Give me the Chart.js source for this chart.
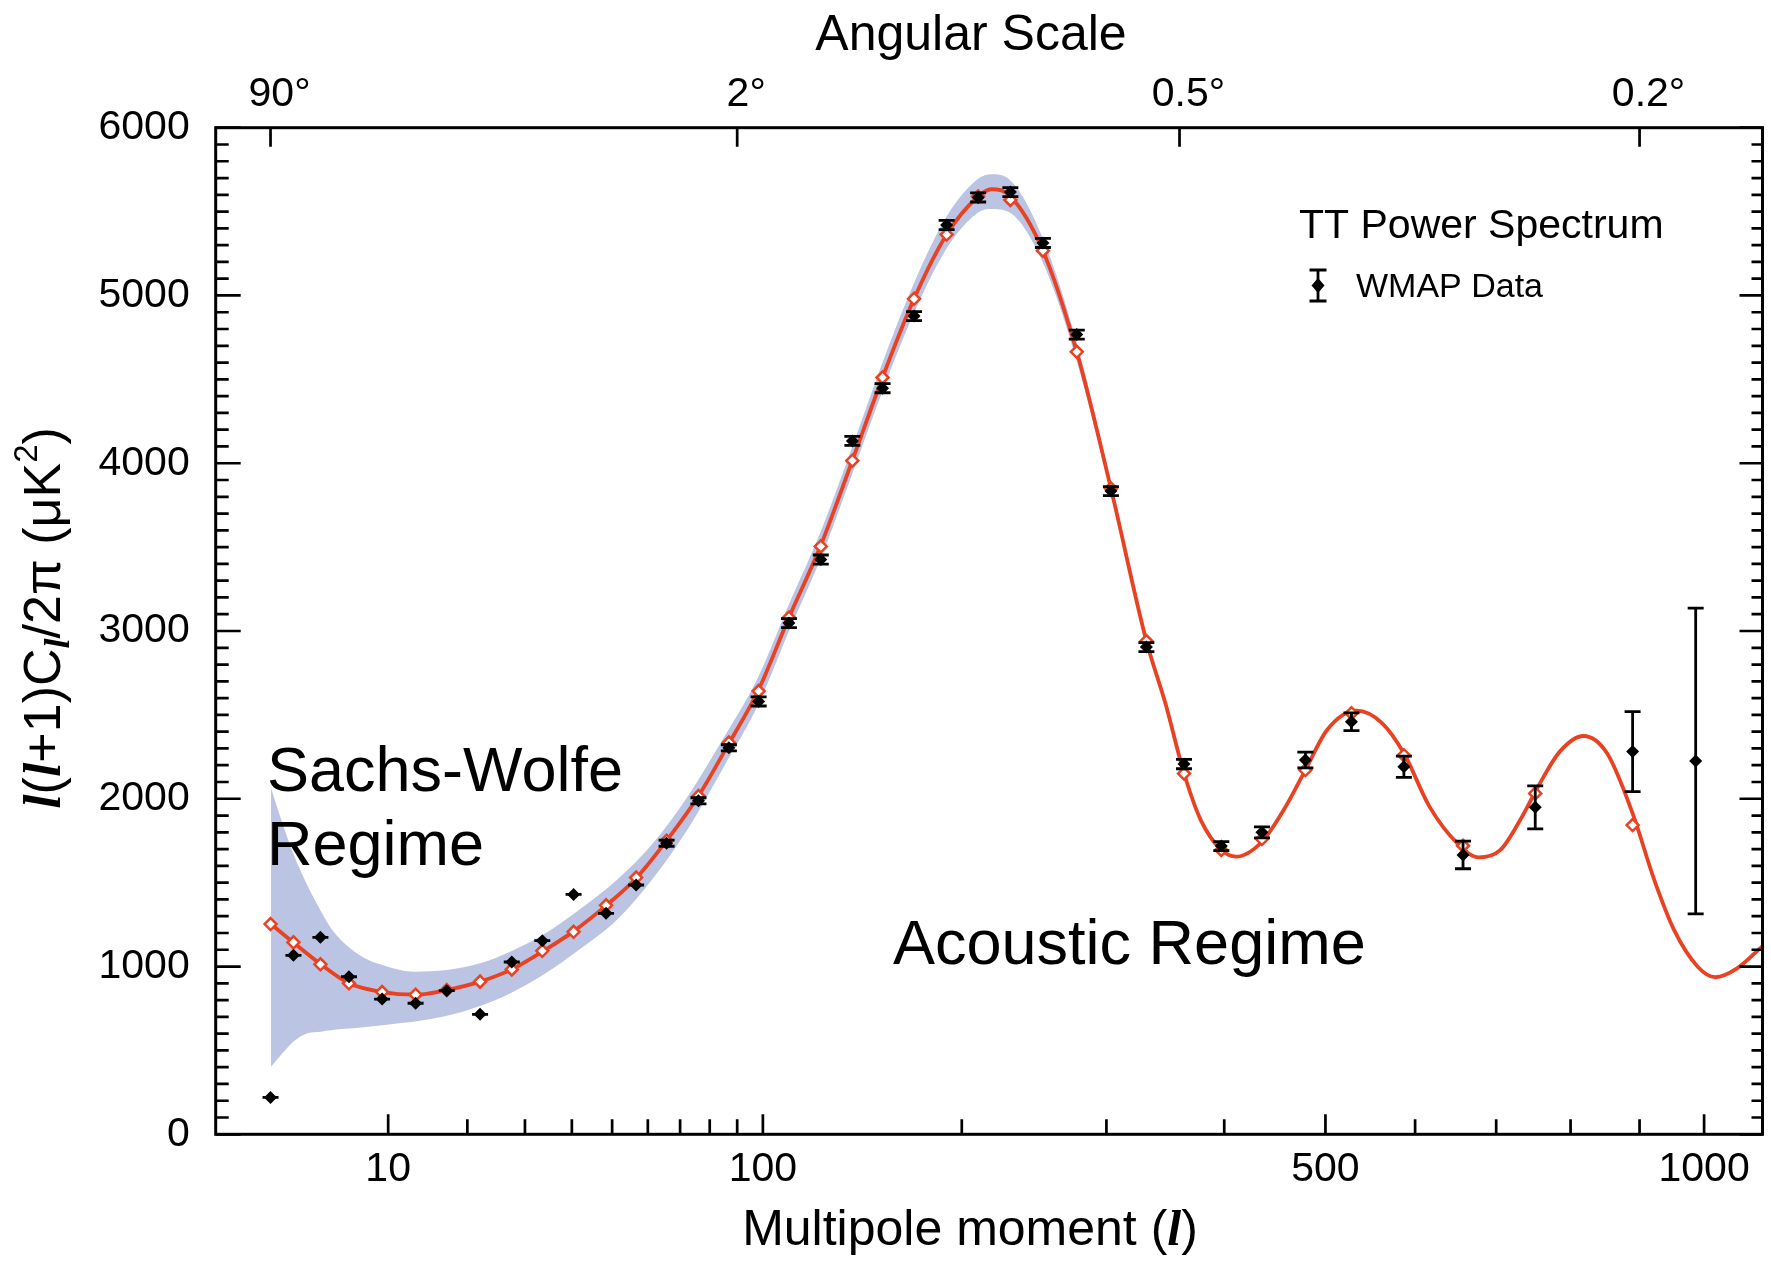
<!DOCTYPE html>
<html>
<head>
<meta charset="utf-8">
<title>WMAP TT Power Spectrum</title>
<script src="https://cdn.jsdelivr.net/npm/chart.js@4.4.0/dist/chart.umd.min.js"></script>
<style>
  html, body { margin: 0; padding: 0; background: #fff; }
  #wrap { width: 1771px; height: 1262px; }
</style>
</head>
<body>
<div id="wrap"><canvas id="spectrumChart" width="1771" height="1262"></canvas></div>
<script>
// the multipole axis of the WMAP figure is spaced as l^0.4
const POW = 0.4;
const L_MIN = 0.51;
const L_MAX = 1096;

// binned WMAP data (bin centre, value, error)
const binL = [2, 3, 4.5, 6.5, 9.4, 13, 17, 22, 27.5, 33.5, 40.4, 48.4, 56.6, 65.7, 76.1, 86.9, 98.3, 110.8, 124.9, 139.9,
  155.2, 172.2, 190.9, 210.1, 230.9, 253.1, 277.5, 303.5, 332, 363.9, 397.3, 435.7, 479.1, 527.9, 586.9, 658, 751.5, 889.6, 986.6];
const wmapValues = [220, 1067, 1174, 939, 806, 781, 856, 715, 1027, 1154, 1430, 1317, 1486, 1735, 1988, 2304, 2580, 3047, 3426, 4133,
  4447, 4877, 5420, 5584, 5616, 5313, 4767, 3834, 2904, 2207, 1718, 1800, 2231, 2459, 2191, 1665, 1949, 2281, 2225];
const wmapErrors = [0, 0, 0, 0, 0, 0, 0, 0, 0, 0, 0, 0, 0, 18, 18, 18, 27, 27, 27, 27,
  27, 27, 27, 27, 27, 27, 27, 27, 27, 28, 27, 33, 47, 53, 63, 82, 128, 239, 911];

// binned model (open red diamonds), same bins as the data minus the last one
const modelBinned = [1253, 1144, 1013, 900, 848, 832, 860, 910, 983, 1094, 1207, 1365, 1530, 1750, 2016, 2335, 2642, 3080, 3504, 4015,
  4511, 4980, 5363, 5590, 5569, 5267, 4664, 3850, 2940, 2150, 1695, 1760, 2171, 2510, 2260, 1720, 2032, 1843];

// best fit model curve
const modelL = [2.02, 2.99, 4.53, 6.5, 9.43, 12.95, 17, 22, 27.5, 33.8, 40.3, 48.4, 56.6, 65.7, 76.1, 87.1, 98.1, 110.8, 124.8, 139.8,
  155.2, 172.2, 190.9, 210.1, 218.5, 230.4, 253.1, 277.5, 303.5, 332, 347.9, 363.9, 378.7, 397.3, 411.2, 435.7, 457.1, 479.1, 501.7, 533.5,
  562.1, 586.9, 617.1, 650.8, 677.8, 705.5, 731.4, 757.8, 785, 818, 852, 889.6, 922.2, 952.6, 989.8, 1018.2, 1053.5, 1096];
const modelValues = [1253, 1144, 1013, 900, 848, 832, 860, 910, 983, 1094, 1208, 1363, 1526, 1750, 2016, 2335, 2644, 3080, 3507, 4013,
  4511, 4980, 5363, 5590, 5633, 5595, 5267, 4664, 3850, 2940, 2569, 2152, 1873, 1695, 1655, 1744, 1933, 2171, 2410, 2525,
  2450, 2271, 1953, 1735, 1651, 1695, 1873, 2092, 2281, 2374, 2271, 1913, 1516, 1218, 999, 936, 989, 1122];

// cosmic variance band
const bandL = [2.02, 2.49, 2.99, 3.73, 4.53, 5.28, 6.59, 8.08, 9.43, 11.61, 12.95, 17, 22, 27.18, 34.19, 42.2, 51.23, 61.33, 72.53, 84.88,
  98.1, 110.8, 124.8, 139.8, 155.2, 172.2, 190.9, 210.1, 218.5, 230.4, 253.1, 277.5, 303.5, 332];
const bandLow = [403, 483, 552, 602, 612, 622, 630, 641, 650, 665, 672, 706, 765, 840, 960, 1109, 1277, 1520, 1820, 2185,
  2560, 3000, 3430, 3935, 4430, 4895, 5280, 5495, 5516, 5495, 5195, 4610, 3815, 2925];
const bandHigh = [2062, 1854, 1674, 1483, 1330, 1218, 1109, 1040, 1009, 975, 969, 979, 1019, 1088, 1198, 1347, 1516, 1730, 2015, 2360,
  2725, 3160, 3590, 4095, 4600, 5075, 5470, 5695, 5722, 5690, 5340, 4720, 3885, 2955];

// ticks
const xMajor = [10, 100, 500, 1000];
const xMinor = [20, 30, 40, 50, 60, 70, 80, 90, 200, 300, 400, 600, 700, 800, 900];
const angleTickL = [2, 90, 360, 900];
const angleLabels = ['90°', '2°', '0.5°', '0.2°'];

const SANS = '"Liberation Sans", Arial, Helvetica, sans-serif';
const SERIF = '"Liberation Serif", "Times New Roman", serif';
const RED = 'rgb(232, 66, 34)';
const BAND = 'rgb(187, 196, 227)';

class PowerScale extends Chart.Scale {
    static id = 'power';
    static defaults = {};

    determineDataLimits() {
        this.min = this.options.min;
        this.max = this.options.max;
    }

    buildTicks() {
        return [];
    }

    getLabelForValue(value) {
        return String(value);
    }

    configure() {
        super.configure();
        this._powStart = Math.pow(this.min, POW);
        this._powRange = Math.pow(this.max, POW) - this._powStart;
    }

    getPixelForValue(value) {
        return this.getPixelForDecimal((Math.pow(value, POW) - this._powStart) / this._powRange);
    }

    getValueForPixel(pixel) {
        return Math.pow(this.getDecimalForPixel(pixel) * this._powRange + this._powStart, 1 / POW);
    }
}
Chart.register(PowerScale);

const pts = (xs, ys) => ys.map((v, i) => ({ x: xs[i], y: v }));

function drawRuns(ctx, runs, x, y, align) {
    let total = 0;
    runs.forEach(r => { ctx.font = r.font; r.w = ctx.measureText(r.text).width; total += r.w; });
    let cx = align === 'center' ? x - total / 2 : x;
    runs.forEach(r => {
        ctx.font = r.font;
        ctx.fillText(r.text, cx, y + (r.dy || 0));
        cx += r.w;
    });
}

// error bars under the black diamonds
const errorBars = {
    id: 'errorBars',
    beforeDatasetDraw(chart, args) {
        if (args.index !== 4) return;
        const { ctx, scales: { x, y } } = chart;
        ctx.save();
        ctx.strokeStyle = '#000';
        ctx.lineWidth = 2.8;
        ctx.beginPath();
        binL.forEach((l, i) => {
            const px = x.getPixelForValue(l);
            const top = y.getPixelForValue(wmapValues[i] + wmapErrors[i]);
            const bot = y.getPixelForValue(wmapValues[i] - wmapErrors[i]);
            ctx.moveTo(px, top); ctx.lineTo(px, bot);
            ctx.moveTo(px - 8, top); ctx.lineTo(px + 8, top);
            ctx.moveTo(px - 8, bot); ctx.lineTo(px + 8, bot);
        });
        ctx.stroke();
        ctx.restore();
    }
};

// frame, inward ticks and the text
const frameAndText = {
    id: 'frameAndText',
    afterDraw(chart) {
        const { ctx, chartArea: a, scales } = chart;
        const x = scales.x, y = scales.y, top = scales.x2;
        ctx.save();
        ctx.strokeStyle = '#000';
        ctx.lineWidth = 3;
        ctx.strokeRect(a.left, a.top, a.right - a.left, a.bottom - a.top);

        ctx.lineWidth = 2.7;
        ctx.beginPath();
        xMajor.forEach(v => {
            const px = x.getPixelForValue(v);
            ctx.moveTo(px, a.bottom); ctx.lineTo(px, a.bottom - 20);
        });
        xMinor.forEach(v => {
            const px = x.getPixelForValue(v);
            ctx.moveTo(px, a.bottom); ctx.lineTo(px, a.bottom - 15);
        });
        angleTickL.forEach(v => {
            const px = top.getPixelForValue(v);
            ctx.moveTo(px, a.top); ctx.lineTo(px, a.top + 19);
        });
        y.ticks.forEach(t => {
            const py = y.getPixelForValue(t.value);
            const major = t.value % 1000 === 0;
            ctx.moveTo(a.left, py); ctx.lineTo(a.left + (major ? 25 : 13), py);
            ctx.moveTo(a.right, py); ctx.lineTo(a.right - (major ? 23 : 11), py);
        });
        ctx.stroke();

        ctx.fillStyle = '#000';
        ctx.textBaseline = 'alphabetic';
        ctx.textAlign = 'left';

        drawRuns(ctx, [{ text: 'Angular Scale', font: `50px ${SANS}` }], 971, 50, 'center');

        drawRuns(ctx, [
            { text: 'Multipole moment (', font: `50px ${SANS}` },
            { text: 'l', font: `bold italic 50px ${SERIF}` },
            { text: ')', font: `50px ${SANS}` }
        ], 970, 1245, 'center');

        ctx.save();
        ctx.translate(60, 618);
        ctx.rotate(-Math.PI / 2);
        drawRuns(ctx, [
            { text: 'l', font: `bold italic 52px ${SERIF}` },
            { text: '(', font: `52px ${SANS}` },
            { text: 'l', font: `bold italic 52px ${SERIF}` },
            { text: '+1)C', font: `52px ${SANS}` },
            { text: 'l', font: `bold italic 36px ${SERIF}`, dy: 9 },
            { text: '/2π (μK', font: `52px ${SANS}` },
            { text: '2', font: `33px ${SANS}`, dy: -23 },
            { text: ')', font: `52px ${SANS}` }
        ], 0, 0, 'center');
        ctx.restore();

        // legend
        drawRuns(ctx, [{ text: 'TT Power Spectrum', font: `41px ${SANS}` }], 1299, 238, 'left');
        drawRuns(ctx, [{ text: 'WMAP Data', font: `34px ${SANS}` }], 1356, 297, 'left');
        const lx = 1318;
        ctx.lineWidth = 2.8;
        ctx.beginPath();
        ctx.moveTo(lx, 270); ctx.lineTo(lx, 301);
        ctx.moveTo(lx - 8.5, 270); ctx.lineTo(lx + 8.5, 270);
        ctx.moveTo(lx - 8.5, 301); ctx.lineTo(lx + 8.5, 301);
        ctx.stroke();
        ctx.beginPath();
        ctx.moveTo(lx, 278); ctx.lineTo(lx + 6.5, 285.5); ctx.lineTo(lx, 293); ctx.lineTo(lx - 6.5, 285.5);
        ctx.closePath();
        ctx.fill();

        // regime labels
        drawRuns(ctx, [{ text: 'Sachs-Wolfe', font: `63px ${SANS}` }], 267, 791, 'left');
        drawRuns(ctx, [{ text: 'Regime', font: `63px ${SANS}` }], 267, 865, 'left');
        drawRuns(ctx, [{ text: 'Acoustic Regime', font: `63px ${SANS}` }], 893, 964, 'left');
        ctx.restore();
    }
};

const tickFont = { family: SANS, size: 41 };

const ctx = document.getElementById('spectrumChart').getContext('2d');
const spectrumChart = new Chart(ctx, {
    type: 'line',
    data: {
        datasets: [
            {
                label: 'band low',
                data: pts(bandL, bandLow),
                xAxisID: 'x', yAxisID: 'y',
                borderWidth: 0, pointRadius: 0,
                cubicInterpolationMode: 'monotone',
                fill: false,
                order: 4
            },
            {
                label: 'band high',
                data: pts(bandL, bandHigh),
                xAxisID: 'x', yAxisID: 'y',
                borderWidth: 0, pointRadius: 0,
                cubicInterpolationMode: 'monotone',
                backgroundColor: BAND,
                fill: '-1',
                order: 3
            },
            {
                label: 'model',
                data: pts(modelL, modelValues),
                xAxisID: 'x', yAxisID: 'y',
                borderColor: RED, borderWidth: 3.8,
                pointRadius: 0,
                cubicInterpolationMode: 'monotone',
                fill: false,
                order: 2
            },
            {
                label: 'binned model',
                data: pts(binL, modelBinned),
                xAxisID: 'x', yAxisID: 'y',
                showLine: false,
                pointStyle: 'rectRot', pointRadius: 6,
                pointBorderColor: RED, pointBorderWidth: 2.5,
                pointBackgroundColor: '#fff',
                order: 1
            },
            {
                label: 'WMAP Data',
                data: pts(binL, wmapValues),
                xAxisID: 'x', yAxisID: 'y',
                showLine: false,
                pointStyle: 'rectRot', pointRadius: 6.5,
                pointBorderWidth: 0,
                pointBackgroundColor: '#000',
                order: 0
            }
        ]
    },
    options: {
        responsive: false,
        animation: false,
        events: [],
        layout: { padding: { left: 0, right: 1.5, top: 0, bottom: 0 } },
        plugins: { legend: { display: false }, tooltip: { enabled: false } },
        scales: {
            x: {
                type: 'power',
                position: 'bottom',
                min: L_MIN, max: L_MAX,
                grid: { display: false, drawTicks: false, tickLength: 0 },
                border: { display: false },
                afterBuildTicks: s => { s.ticks = xMajor.map(v => ({ value: v })); },
                afterFit: s => { s.height = 127.7; },
                ticks: {
                    autoSkip: false, maxRotation: 0, padding: 11,
                    color: '#000', font: tickFont,
                    callback: v => String(v)
                }
            },
            x2: {
                type: 'power',
                position: 'top',
                axis: 'x',
                min: L_MIN, max: L_MAX,
                grid: { display: false, drawTicks: false, tickLength: 0 },
                border: { display: false },
                afterBuildTicks: s => { s.ticks = angleTickL.map(v => ({ value: v })); },
                afterFit: s => { s.height = 127.7; },
                ticks: {
                    autoSkip: false, maxRotation: 0, padding: 8, labelOffset: 9,
                    color: '#000', font: tickFont,
                    callback: (v, i) => angleLabels[i]
                }
            },
            y: {
                type: 'linear',
                position: 'left',
                min: 0, max: 6000,
                grid: { display: false, drawTicks: false, tickLength: 0 },
                border: { display: false },
                afterFit: s => { s.width = 215.7; },
                ticks: {
                    stepSize: 100, autoSkip: false, padding: 26,
                    color: '#000', font: tickFont,
                    callback: v => (v % 1000 === 0 ? String(v) : '')
                }
            }
        }
    },
    plugins: [errorBars, frameAndText]
});
</script>
</body>
</html>
